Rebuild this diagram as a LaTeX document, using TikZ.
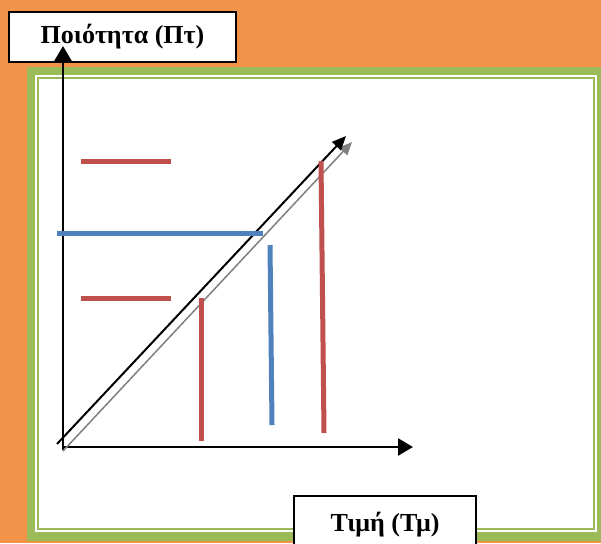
\documentclass[tikz,border=0pt]{standalone}
\usepackage{fontspec}
\setmainfont{Liberation Serif}
\usepackage{xcolor}
\definecolor{orangefond}{HTML}{F2934A}
\definecolor{vertcadre}{HTML}{9BBB59}
\definecolor{rouge}{HTML}{C0504D}
\definecolor{bleu}{HTML}{4F81BD}
\usepackage{tikz}
\usetikzlibrary{arrows.meta}

\begin{document}
\begin{tikzpicture}[x=1pt,y=-1pt,
  etiquette/.style={draw=black,fill=white,line width=1.5pt,inner sep=0pt,font=\fontsize{26}{29}\selectfont\bfseries},
  axe/.style={line width=2.5pt,-{Triangle[length=15pt,width=17pt]}},
  trait/.style={line width=5pt}
]
\useasboundingbox (0,0) rectangle (601,543);
\fill[orangefond] (0,0) rectangle (601,543);
\fill[vertcadre] (27,67) rectangle (606,541);
\fill[white] (35,75) rectangle (597,532);
\draw[vertcadre,line width=2pt] (38,78) rectangle (594,529);
\node[etiquette,minimum width=227pt,minimum height=50pt] (p) at (122.5,37) {Ποιότητα (Πτ)};
\node[etiquette,minimum width=182pt,minimum height=58pt] (t) at (385,525) {Τιμή (Τμ)};
\coordinate (o) at (63,447);
\coordinate (ybas) at (63,450);
\coordinate (yhaut) at (63,46);
\coordinate (xfin) at (413,447);
\coordinate (d1) at (57,444);
\coordinate (d1f) at (346,136);
\coordinate (d2) at (63,451);
\coordinate (d2f) at (352,142);
\draw[axe] (ybas)--(yhaut);
\draw[axe] (o)--(xfin);
\draw[gray,line width=1.5pt,-{Triangle[length=13pt,width=11pt]}] (d2)--(d2f);
\draw[black,line width=2pt,-{Triangle[length=14pt,width=12pt]}] (d1)--(d1f);
\draw[trait,rouge] (81,161)--(171,161);
\draw[trait,rouge] (81,298)--(171,298);
\draw[trait,bleu] (57,233)--(263,233);
\draw[trait,rouge] (201,298)--(201,441);
\draw[trait,bleu] (270,245)--(272,425);
\draw[trait,rouge] (321,161)--(324,433);
\end{tikzpicture}
\end{document}
